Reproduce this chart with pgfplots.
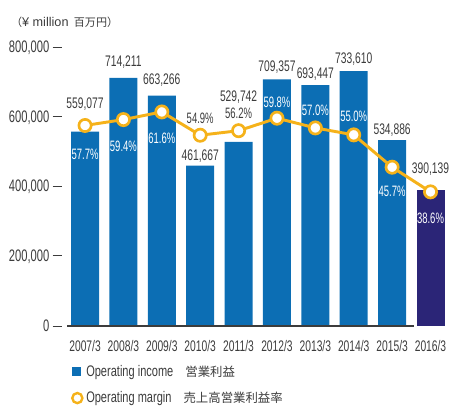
\documentclass[border=0pt]{standalone}
\usepackage{pgfplots}
\pgfplotsset{compat=1.18}
\usepackage{fontspec}
\setmainfont[FakeStretch=0.72]{Liberation Sans}
\newfontfamily\plainfont{Liberation Sans}
\newfontfamily\cond[FakeStretch=0.67]{Liberation Sans}
\newfontfamily\pcond[FakeStretch=0.63]{Liberation Sans}
\newfontfamily\cjk{Noto Sans CJK JP}
\definecolor{barblue}{HTML}{0C6EB4}
\definecolor{barnavy}{HTML}{2B2577}
\definecolor{lineyel}{HTML}{F5B21A}
\definecolor{txt}{HTML}{3C3C3C}
\begin{document}
\begin{tikzpicture}
\begin{axis}[
  scale only axis, width=285pt, height=208.5pt,
  xmin=-0.47, xmax=9.43, ymin=0, ymax=800000,
  clip=false,
  axis lines=left, axis line style={draw=none},
  major tick length=0pt,
  /pgf/number format/assume math mode=true,
  /pgf/number format/fixed,
  /pgf/number format/precision=0,
  /pgf/number format/1000 sep={,},
  scaled y ticks=false,
  ytick={0,200000,400000,600000,800000},
  yticklabel={\pgfmathprintnumber{\tick}\hspace{2.5pt}\rule[0.3em]{6.75pt}{0.8pt}},
  yticklabel style={font=\cond\fontsize{12.5}{13}\selectfont, text=txt, xshift=-0.5pt},
  xtick={0,...,9},
  xticklabels={2007/3,2008/3,2009/3,2010/3,2011/3,2012/3,2013/3,2014/3,2015/3,2016/3},
  xticklabel style={font=\cond\fontsize{11.5}{12}\selectfont, text=txt, yshift=-7.5pt},
  legend style={at={(0.01,-0.13)}, anchor=north west, draw=none, fill=none,
    inner sep=0pt, row sep=6pt, font=\fontsize{11.5}{12}\selectfont, text=txt,
    legend cell align=left},
]
\addplot[ybar, bar width=21pt, fill=barblue, draw=none, bar shift=0pt,
  legend image code/.code={\fill[barblue] (0pt,-3.4pt) rectangle (6.8pt,3.4pt);}]
  coordinates {(0,559077) (1,714211) (2,663266) (3,461667) (4,529742) (5,709357) (6,693447) (7,733610) (8,534886)};
\addlegendentry{Operating income\hspace{9pt}{\cjk\fontsize{9.3}{10}\selectfont 営業利益}}
\addplot[ybar, bar width=21pt, fill=barnavy, draw=none, bar shift=0pt, forget plot]
  coordinates {(9,390139)};
\draw[txt, line width=1pt] (axis cs:-0.47,0) -- (axis cs:8.58,0);
\addplot[lineyel, line width=2.2pt, mark=*, mark size=4.6pt,
  mark options={fill=white, draw=lineyel, line width=2pt},
  legend image code/.code={\draw[lineyel, line width=1.8pt, fill=white] (3.8pt,0) circle (3.8pt);}]
  coordinates {(0,577000) (1,594000) (2,616000) (3,549000) (4,562000) (5,598000) (6,570000) (7,550000) (8,457000) (9,386000)};
\addlegendentry{Operating margin\hspace{9pt}{\cjk\fontsize{9.3}{10}\selectfont 売上高営業利益率}}
% value labels
\begin{scope}[every node/.style={font=\cond\fontsize{11.5}{12}\selectfont, text=txt}]
\node at (axis cs:0,639000) {559,077};
\node at (axis cs:1,760000) {714,211};
\node at (axis cs:2,708000) {663,266};
\node at (axis cs:3,489000) {461,667};
\node at (axis cs:4,659000) {529,742};
\node at (axis cs:5,745000) {709,357};
\node at (axis cs:6,725000) {693,447};
\node at (axis cs:7,768000) {733,610};
\node at (axis cs:8,564000) {534,886};
\node at (axis cs:9,452000) {390,139};
\end{scope}
\begin{scope}[every node/.style={font=\pcond\fontsize{11.3}{12}\selectfont}]
\node[text=white] at (axis cs:0,495000) {57.7\%};
\node[text=white] at (axis cs:1,518000) {59.4\%};
\node[text=white] at (axis cs:2,541000) {61.6\%};
\node[text=txt] at (axis cs:3,599000) {54.9\%};
\node[text=txt] at (axis cs:4,613000) {56.2\%};
\node[text=white] at (axis cs:5,645000) {59.8\%};
\node[text=white] at (axis cs:6,622000) {57.0\%};
\node[text=white] at (axis cs:7,604000) {55.0\%};
\node[text=white] at (axis cs:8,388000) {45.7\%};
\node[text=white] at (axis cs:9,311000) {38.6\%};
\end{scope}
\node[anchor=west, font=\fontsize{9.5}{10}\plainfont, text=txt, xshift=-45.5pt, yshift=19pt]
  at (rel axis cs:0,1) {{\cjk\fontsize{8.3}{10}\selectfont （}¥ million\hspace{4pt}{\cjk\fontsize{8.3}{10}\selectfont 百万円）}};
\path[draw=none] ([xshift=-50.25pt,yshift=-61.5pt]rel axis cs:0,0) rectangle ([xshift=7.5pt,yshift=36pt]rel axis cs:1,1);
\end{axis}
\end{tikzpicture}
\end{document}
